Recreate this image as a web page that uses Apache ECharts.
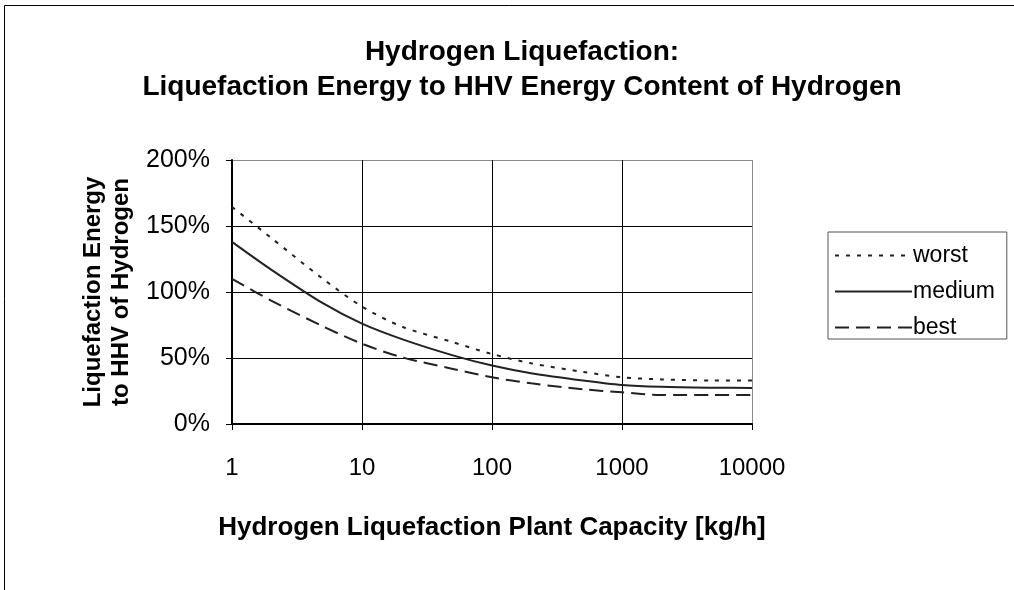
<!DOCTYPE html>
<html>
<head>
<meta charset="utf-8">
<script src="https://cdn.jsdelivr.net/npm/echarts@6/dist/echarts.min.js"></script>
<style>
html, body { margin: 0; padding: 0; background: #fff; }
#chart { width: 1014px; height: 590px; }
</style>
</head>
<body>
<div id="chart"></div>
<script>
// plant capacity in kg/h
var capacity = [1, 2, 5, 10, 20, 50, 100, 200, 500, 1000, 2000, 5000, 10000];
// liquefaction energy / HHV, in %
var worst  = [164.5, 141, 110, 89, 74, 62, 53, 46, 39.5, 35.4, 33.8, 33, 33];
var medium = [138, 117, 91.5, 76, 64.5, 52, 44.3, 38.5, 33, 29.6, 28.2, 27.5, 27.3];
var best   = [110, 93.5, 74, 60.8, 50.7, 41.7, 35.4, 30.8, 26.3, 24, 22, 22, 22];
var yTicks = [0, 50, 100, 150, 200];

function pairs(vals) {
	var out = [];
	for (var i = 0; i < capacity.length; i++) {
		out.push([capacity[i], vals[i]]);
	}
	return out;
}

function makeSeries(name, vals, dash) {
	return {
		name: name,
		type: 'line',
		symbol: 'none',
		smooth: 0.3,
		lineStyle: { color: '#222', width: 2, type: dash },
		itemStyle: { color: '#222' },
		data: pairs(vals)
	};
}

var myChart = echarts.init(document.getElementById('chart'));
var font = 'Arial, "Liberation Sans", sans-serif';
// the outer edge lines of the plot area are grey, the inner grid black
var gridColors = ['#000', '#000', '#000', '#000', '#8a8a8a'];

var option = {
	backgroundColor: '#fff',
	animation: false,
	textStyle: { fontFamily: font },
	title: {
		text: 'Hydrogen Liquefaction:\nLiquefaction Energy to HHV Energy Content of Hydrogen',
		left: 517,
		top: 30,
		textAlign: 'center',
		textStyle: { fontFamily: font, fontSize: 28, fontWeight: 'bold', color: '#000', lineHeight: 35 }
	},
	graphic: [{
		type: 'rect',
		shape: { x: 4.5, y: 5.5, width: 1040, height: 620 },
		style: { fill: null, stroke: '#000', lineWidth: 1 },
		silent: true
	}],
	legend: {
		orient: 'vertical',
		left: 828,
		top: 232,
		padding: [12, 12, 0, 6],
		itemWidth: 77,
		itemHeight: 14,
		itemGap: 13,
		borderColor: '#555',
		borderWidth: 1,
		itemStyle: { opacity: 0 },
		textStyle: { fontFamily: font, fontSize: 23, color: '#000', lineHeight: 20, padding: [0, 0, 0, -4] },
		data: ['worst', 'medium', 'best']
	},
	grid: { left: 232, right: 262, top: 160, bottom: 166 },
	xAxis: {
		type: 'log',
		logBase: 10,
		min: 1,
		max: 10000,
		name: 'Hydrogen Liquefaction Plant Capacity [kg/h]',
		nameLocation: 'middle',
		nameGap: 91,
		nameTextStyle: { fontFamily: font, fontSize: 26, fontWeight: 'bold', color: '#000' },
		axisLine: { lineStyle: { color: '#000', width: 2 } },
		axisTick: { show: true, length: 6, lineStyle: { color: '#000' } },
		axisLabel: {
			fontFamily: font, fontSize: 24, color: '#000', margin: 32,
			formatter: function (v) { return String(v); }
		},
		splitLine: { show: true, lineStyle: { color: gridColors, width: 1 } }
	},
	yAxis: {
		type: 'value',
		min: 0,
		max: 200,
		interval: 50,
		name: 'Liquefaction Energy\nto HHV of Hydrogen',
		nameLocation: 'middle',
		nameGap: 92,
		nameTextStyle: { fontFamily: font, fontSize: 24, fontWeight: 'bold', color: '#000', lineHeight: 28 },
		axisLine: { show: true, lineStyle: { color: '#000', width: 2 } },
		axisTick: { show: true, length: 6, lineStyle: { color: '#000' } },
		axisLabel: {
			fontFamily: font, fontSize: 25, color: '#000', margin: 22,
			formatter: function (v) { return yTicks.indexOf(v) >= 0 ? v + '%' : ''; }
		},
		splitLine: { show: true, lineStyle: { color: gridColors, width: 1 } }
	},
	series: [
		makeSeries('worst', worst, [4, 7]),
		makeSeries('medium', medium, 'solid'),
		makeSeries('best', best, [14, 7])
	]
};
myChart.setOption(option);
</script>
</body>
</html>
